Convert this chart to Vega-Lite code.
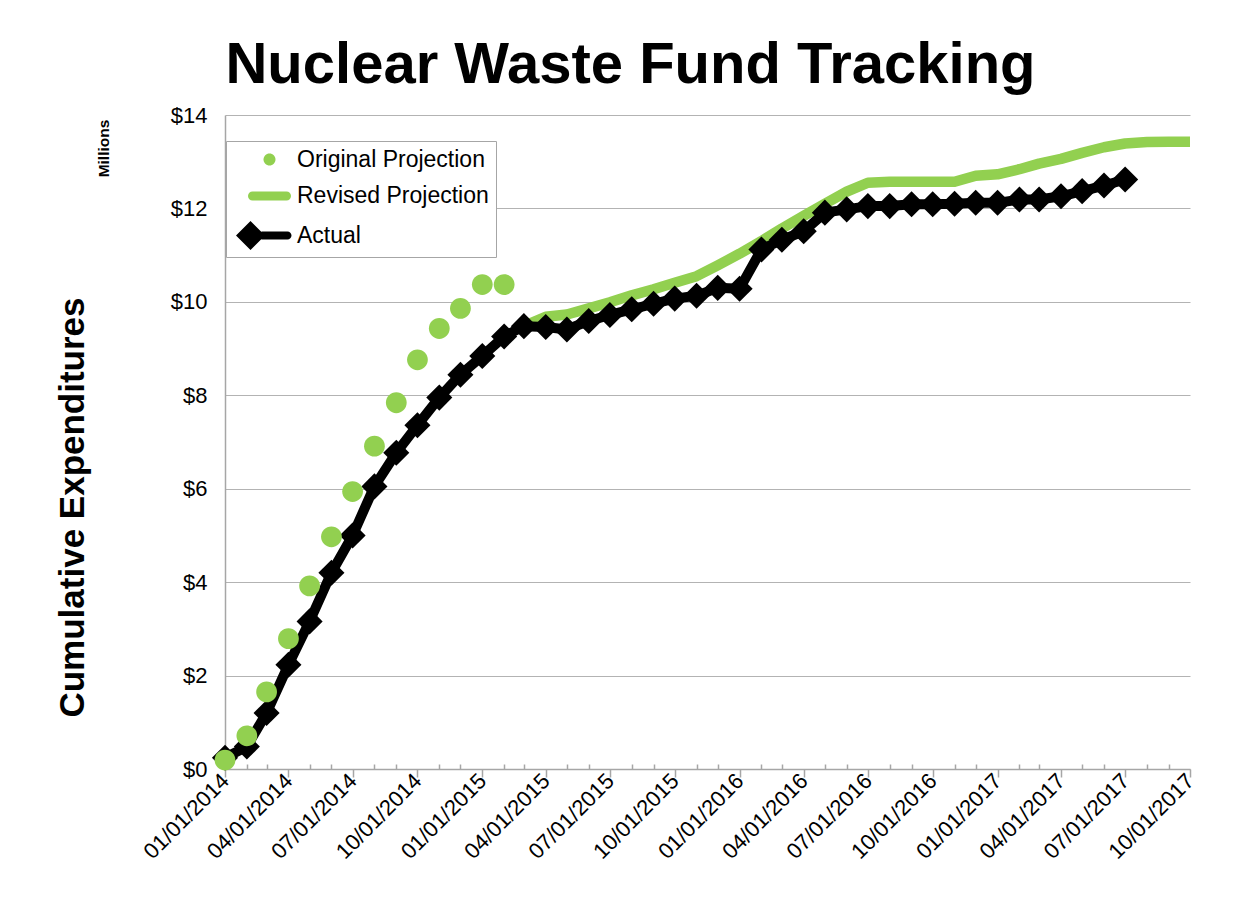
{
  "$schema": "https://vega.github.io/schema/vega-lite/v6.json",
  "width": 965,
  "height": 654,
  "autosize": {"type": "none"},
  "padding": {"left": 225, "top": 115, "right": 61, "bottom": 136},
  "background": "white",
  "title": {
    "text": "Nuclear Waste Fund Tracking",
    "font": "Liberation Sans",
    "fontSize": 58,
    "fontWeight": "bold",
    "color": "#000000",
    "anchor": "middle",
    "frame": "group",
    "baseline": "alphabetic",
    "offset": 30,
    "dx": -77,
    "dy": 67
  },
  "data": {
    "values": [
      {"date": "2014-01-01T00:00:00", "series": "Actual", "value": 0.24},
      {"date": "2014-02-01T00:00:00", "series": "Actual", "value": 0.48},
      {"date": "2014-03-01T00:00:00", "series": "Actual", "value": 1.2},
      {"date": "2014-04-01T00:00:00", "series": "Actual", "value": 2.23},
      {"date": "2014-05-01T00:00:00", "series": "Actual", "value": 3.16},
      {"date": "2014-06-01T00:00:00", "series": "Actual", "value": 4.2},
      {"date": "2014-07-01T00:00:00", "series": "Actual", "value": 5.0},
      {"date": "2014-08-01T00:00:00", "series": "Actual", "value": 6.05},
      {"date": "2014-09-01T00:00:00", "series": "Actual", "value": 6.77},
      {"date": "2014-10-01T00:00:00", "series": "Actual", "value": 7.36},
      {"date": "2014-11-01T00:00:00", "series": "Actual", "value": 7.95},
      {"date": "2014-12-01T00:00:00", "series": "Actual", "value": 8.44},
      {"date": "2015-01-01T00:00:00", "series": "Actual", "value": 8.84},
      {"date": "2015-02-01T00:00:00", "series": "Actual", "value": 9.26},
      {"date": "2015-03-01T00:00:00", "series": "Actual", "value": 9.48},
      {"date": "2015-04-01T00:00:00", "series": "Actual", "value": 9.46},
      {"date": "2015-05-01T00:00:00", "series": "Actual", "value": 9.41},
      {"date": "2015-06-01T00:00:00", "series": "Actual", "value": 9.59},
      {"date": "2015-07-01T00:00:00", "series": "Actual", "value": 9.72},
      {"date": "2015-08-01T00:00:00", "series": "Actual", "value": 9.84},
      {"date": "2015-09-01T00:00:00", "series": "Actual", "value": 9.96},
      {"date": "2015-10-01T00:00:00", "series": "Actual", "value": 10.07},
      {"date": "2015-11-01T00:00:00", "series": "Actual", "value": 10.13},
      {"date": "2015-12-01T00:00:00", "series": "Actual", "value": 10.3},
      {"date": "2016-01-01T00:00:00", "series": "Actual", "value": 10.28},
      {"date": "2016-02-01T00:00:00", "series": "Actual", "value": 11.12},
      {"date": "2016-03-01T00:00:00", "series": "Actual", "value": 11.33},
      {"date": "2016-04-01T00:00:00", "series": "Actual", "value": 11.51},
      {"date": "2016-05-01T00:00:00", "series": "Actual", "value": 11.91},
      {"date": "2016-06-01T00:00:00", "series": "Actual", "value": 11.98},
      {"date": "2016-07-01T00:00:00", "series": "Actual", "value": 12.05},
      {"date": "2016-08-01T00:00:00", "series": "Actual", "value": 12.05},
      {"date": "2016-09-01T00:00:00", "series": "Actual", "value": 12.09},
      {"date": "2016-10-01T00:00:00", "series": "Actual", "value": 12.09},
      {"date": "2016-11-01T00:00:00", "series": "Actual", "value": 12.1},
      {"date": "2016-12-01T00:00:00", "series": "Actual", "value": 12.12},
      {"date": "2017-01-01T00:00:00", "series": "Actual", "value": 12.12},
      {"date": "2017-02-01T00:00:00", "series": "Actual", "value": 12.19},
      {"date": "2017-03-01T00:00:00", "series": "Actual", "value": 12.19},
      {"date": "2017-04-01T00:00:00", "series": "Actual", "value": 12.26},
      {"date": "2017-05-01T00:00:00", "series": "Actual", "value": 12.37},
      {"date": "2017-06-01T00:00:00", "series": "Actual", "value": 12.49},
      {"date": "2017-07-01T00:00:00", "series": "Actual", "value": 12.62},
      {"date": "2015-03-01T00:00:00", "series": "Revised Projection", "value": 9.48},
      {"date": "2015-04-01T00:00:00", "series": "Revised Projection", "value": 9.68},
      {"date": "2015-05-01T00:00:00", "series": "Revised Projection", "value": 9.73},
      {"date": "2015-06-01T00:00:00", "series": "Revised Projection", "value": 9.86},
      {"date": "2015-07-01T00:00:00", "series": "Revised Projection", "value": 9.99},
      {"date": "2015-08-01T00:00:00", "series": "Revised Projection", "value": 10.14},
      {"date": "2015-09-01T00:00:00", "series": "Revised Projection", "value": 10.27},
      {"date": "2015-10-01T00:00:00", "series": "Revised Projection", "value": 10.41},
      {"date": "2015-11-01T00:00:00", "series": "Revised Projection", "value": 10.55},
      {"date": "2015-12-01T00:00:00", "series": "Revised Projection", "value": 10.78},
      {"date": "2016-01-01T00:00:00", "series": "Revised Projection", "value": 11.03},
      {"date": "2016-02-01T00:00:00", "series": "Revised Projection", "value": 11.3},
      {"date": "2016-03-01T00:00:00", "series": "Revised Projection", "value": 11.57},
      {"date": "2016-04-01T00:00:00", "series": "Revised Projection", "value": 11.84},
      {"date": "2016-05-01T00:00:00", "series": "Revised Projection", "value": 12.1},
      {"date": "2016-06-01T00:00:00", "series": "Revised Projection", "value": 12.36},
      {"date": "2016-07-01T00:00:00", "series": "Revised Projection", "value": 12.55},
      {"date": "2016-08-01T00:00:00", "series": "Revised Projection", "value": 12.57},
      {"date": "2016-09-01T00:00:00", "series": "Revised Projection", "value": 12.57},
      {"date": "2016-10-01T00:00:00", "series": "Revised Projection", "value": 12.57},
      {"date": "2016-11-01T00:00:00", "series": "Revised Projection", "value": 12.57},
      {"date": "2016-12-01T00:00:00", "series": "Revised Projection", "value": 12.7},
      {"date": "2017-01-01T00:00:00", "series": "Revised Projection", "value": 12.73},
      {"date": "2017-02-01T00:00:00", "series": "Revised Projection", "value": 12.84},
      {"date": "2017-03-01T00:00:00", "series": "Revised Projection", "value": 12.96},
      {"date": "2017-04-01T00:00:00", "series": "Revised Projection", "value": 13.06},
      {"date": "2017-05-01T00:00:00", "series": "Revised Projection", "value": 13.19},
      {"date": "2017-06-01T00:00:00", "series": "Revised Projection", "value": 13.31},
      {"date": "2017-07-01T00:00:00", "series": "Revised Projection", "value": 13.39},
      {"date": "2017-08-01T00:00:00", "series": "Revised Projection", "value": 13.42},
      {"date": "2017-09-01T00:00:00", "series": "Revised Projection", "value": 13.43},
      {"date": "2017-10-01T00:00:00", "series": "Revised Projection", "value": 13.43},
      {"date": "2014-01-01T00:00:00", "series": "Original Projection", "value": 0.19},
      {"date": "2014-02-01T00:00:00", "series": "Original Projection", "value": 0.71},
      {"date": "2014-03-01T00:00:00", "series": "Original Projection", "value": 1.65},
      {"date": "2014-04-01T00:00:00", "series": "Original Projection", "value": 2.79},
      {"date": "2014-05-01T00:00:00", "series": "Original Projection", "value": 3.92},
      {"date": "2014-06-01T00:00:00", "series": "Original Projection", "value": 4.97},
      {"date": "2014-07-01T00:00:00", "series": "Original Projection", "value": 5.94},
      {"date": "2014-08-01T00:00:00", "series": "Original Projection", "value": 6.91},
      {"date": "2014-09-01T00:00:00", "series": "Original Projection", "value": 7.84},
      {"date": "2014-10-01T00:00:00", "series": "Original Projection", "value": 8.76},
      {"date": "2014-11-01T00:00:00", "series": "Original Projection", "value": 9.43},
      {"date": "2014-12-01T00:00:00", "series": "Original Projection", "value": 9.86},
      {"date": "2015-01-01T00:00:00", "series": "Original Projection", "value": 10.37},
      {"date": "2015-02-01T00:00:00", "series": "Original Projection", "value": 10.37}
    ]
  },
  "encoding": {
    "x": {
      "field": "date",
      "type": "temporal",
      "scale": {"domain": [{"year": 2014, "month": 1, "date": 1}, {"year": 2017, "month": 10, "date": 1}]},
      "axis": {
        "title": null,
        "grid": false,
        "domain": true,
        "domainColor": "#a6a6a6",
        "domainWidth": 1.5,
        "ticks": true,
        "tickColor": "#a6a6a6",
        "tickWidth": 1.5,
        "tickCount": {"interval": "month", "step": 1},
        "tickSize": {"condition": {"test": "month(datum.value) % 3 === 0", "value": 8}, "value": -5},
        "labelExpr": "month(datum.value) % 3 === 0 ? timeFormat(datum.value, '%m/%d/%Y') : ''",
        "labelAngle": -45,
        "labelAlign": "right",
        "labelBaseline": "middle",
        "labelPadding": 0,
        "labelOverlap": false,
        "labelBound": false,
        "labelFlush": false,
        "labelFont": "Liberation Sans",
        "labelFontSize": 22,
        "labelColor": "#000000"
      }
    }
  },
  "layer": [
    {
      "transform": [{"filter": "datum.series === 'Revised Projection'"}],
      "mark": {"type": "line", "color": "#92D050", "strokeWidth": 10.5, "strokeJoin": "round", "strokeCap": "butt"},
      "encoding": {
        "y": {
          "field": "value",
          "type": "quantitative",
          "scale": {"domain": [0, 14], "nice": false},
          "axis": {
            "orient": "left",
            "values": [0, 2, 4, 6, 8, 10, 12, 14],
            "format": "$.0f",
            "grid": true,
            "gridColor": "#b3b3b3",
            "gridWidth": 1.2,
            "domain": true,
            "domainColor": "#a6a6a6",
            "domainWidth": 1.5,
            "ticks": false,
            "labelFont": "Liberation Sans",
            "labelFontSize": 22,
            "labelColor": "#000000",
            "labelPadding": 18,
            "title": "Cumulative Expenditures",
            "titleFont": "Liberation Sans",
            "titleFontSize": 35,
            "titleFontWeight": "bold",
            "titleColor": "#000000",
            "titleAngle": 270,
            "titleAlign": "center",
            "titleBaseline": "middle",
            "titleX": -153,
            "titleY": 392
          }
        }
      }
    },
    {
      "transform": [{"filter": "datum.series === 'Actual'"}],
      "mark": {"type": "line", "color": "#000000", "strokeWidth": 10, "strokeJoin": "round"},
      "encoding": {
        "y": {"field": "value", "type": "quantitative", "axis": null}
      }
    },
    {
      "transform": [{"filter": "datum.series === 'Actual'"}],
      "mark": {"type": "point", "shape": "diamond", "filled": true, "color": "#000000", "size": 680, "opacity": 1},
      "encoding": {
        "y": {"field": "value", "type": "quantitative", "axis": null}
      }
    },
    {
      "transform": [{"filter": "datum.series === 'Original Projection'"}],
      "mark": {"type": "point", "filled": true, "size": 1200, "opacity": 1},
      "encoding": {
        "y": {
          "field": "value",
          "type": "quantitative",
          "axis": {
            "orient": "left",
            "labels": false,
            "ticks": false,
            "domain": false,
            "grid": false,
            "title": "Millions",
            "titleFont": "Liberation Sans",
            "titleFontSize": 15.5,
            "titleFontWeight": "bold",
            "titleColor": "#000000",
            "titleAngle": 270,
            "titleAlign": "center",
            "titleBaseline": "middle",
            "titleX": -122,
            "titleY": 33
          }
        },
        "color": {
          "field": "series",
          "type": "nominal",
          "scale": {
            "domain": ["Original Projection", "Revised Projection", "Actual"],
            "range": ["#92D050", "#92D050", "#000000"]
          },
          "legend": {
            "title": null,
            "orient": "none",
            "legendX": 1,
            "legendY": 26,
            "padding": 7,
            "rowPadding": 12.5,
            "symbolSize": 400,
            "symbolStrokeWidth": 0,
            "symbolOffset": 25,
            "labelOffset": 16,
            "labelLimit": 500,
            "labelFont": "Liberation Sans",
            "labelFontSize": 23,
            "labelColor": "#000000",
            "labelExpr": "datum.label + '\u00a0\u00a0\u00a0\u00a0\u00a0'",
            "fillColor": "#ffffff",
            "strokeColor": "#a6a6a6"
          }
        },
        "shape": {
          "field": "series",
          "type": "nominal",
          "scale": {
            "domain": ["Original Projection", "Revised Projection", "Actual"],
            "range": [
              "M-0.6,0A0.6,0.6,0,1,0,0.6,0A0.6,0.6,0,1,0,-0.6,0Z",
              "M-1.7,-0.45H1.7A0.45,0.45,0,0,1,1.7,0.45H-1.7A0.45,0.45,0,0,1,-1.7,-0.45Z",
              "M-3.35,0L-1.9,-1.45L-0.45,0L-1.9,1.45Z M-0.8,-0.4H1.8A0.4,0.4,0,0,1,1.8,0.4H-0.8Z"
            ]
          },
          "legend": {
            "title": null,
            "orient": "none",
            "legendX": 1,
            "legendY": 26,
            "padding": 7,
            "rowPadding": 12.5,
            "symbolSize": 400,
            "symbolStrokeWidth": 0,
            "symbolOffset": 25,
            "labelOffset": 16,
            "labelLimit": 500,
            "labelFont": "Liberation Sans",
            "labelFontSize": 23,
            "labelColor": "#000000",
            "labelExpr": "datum.label + '\u00a0\u00a0\u00a0\u00a0\u00a0'",
            "fillColor": "#ffffff",
            "strokeColor": "#a6a6a6"
          }
        }
      }
    }
  ],
  "resolve": {"axis": {"y": "independent"}},
  "config": {
    "view": {"stroke": null},
    "font": "Liberation Sans"
  }
}
